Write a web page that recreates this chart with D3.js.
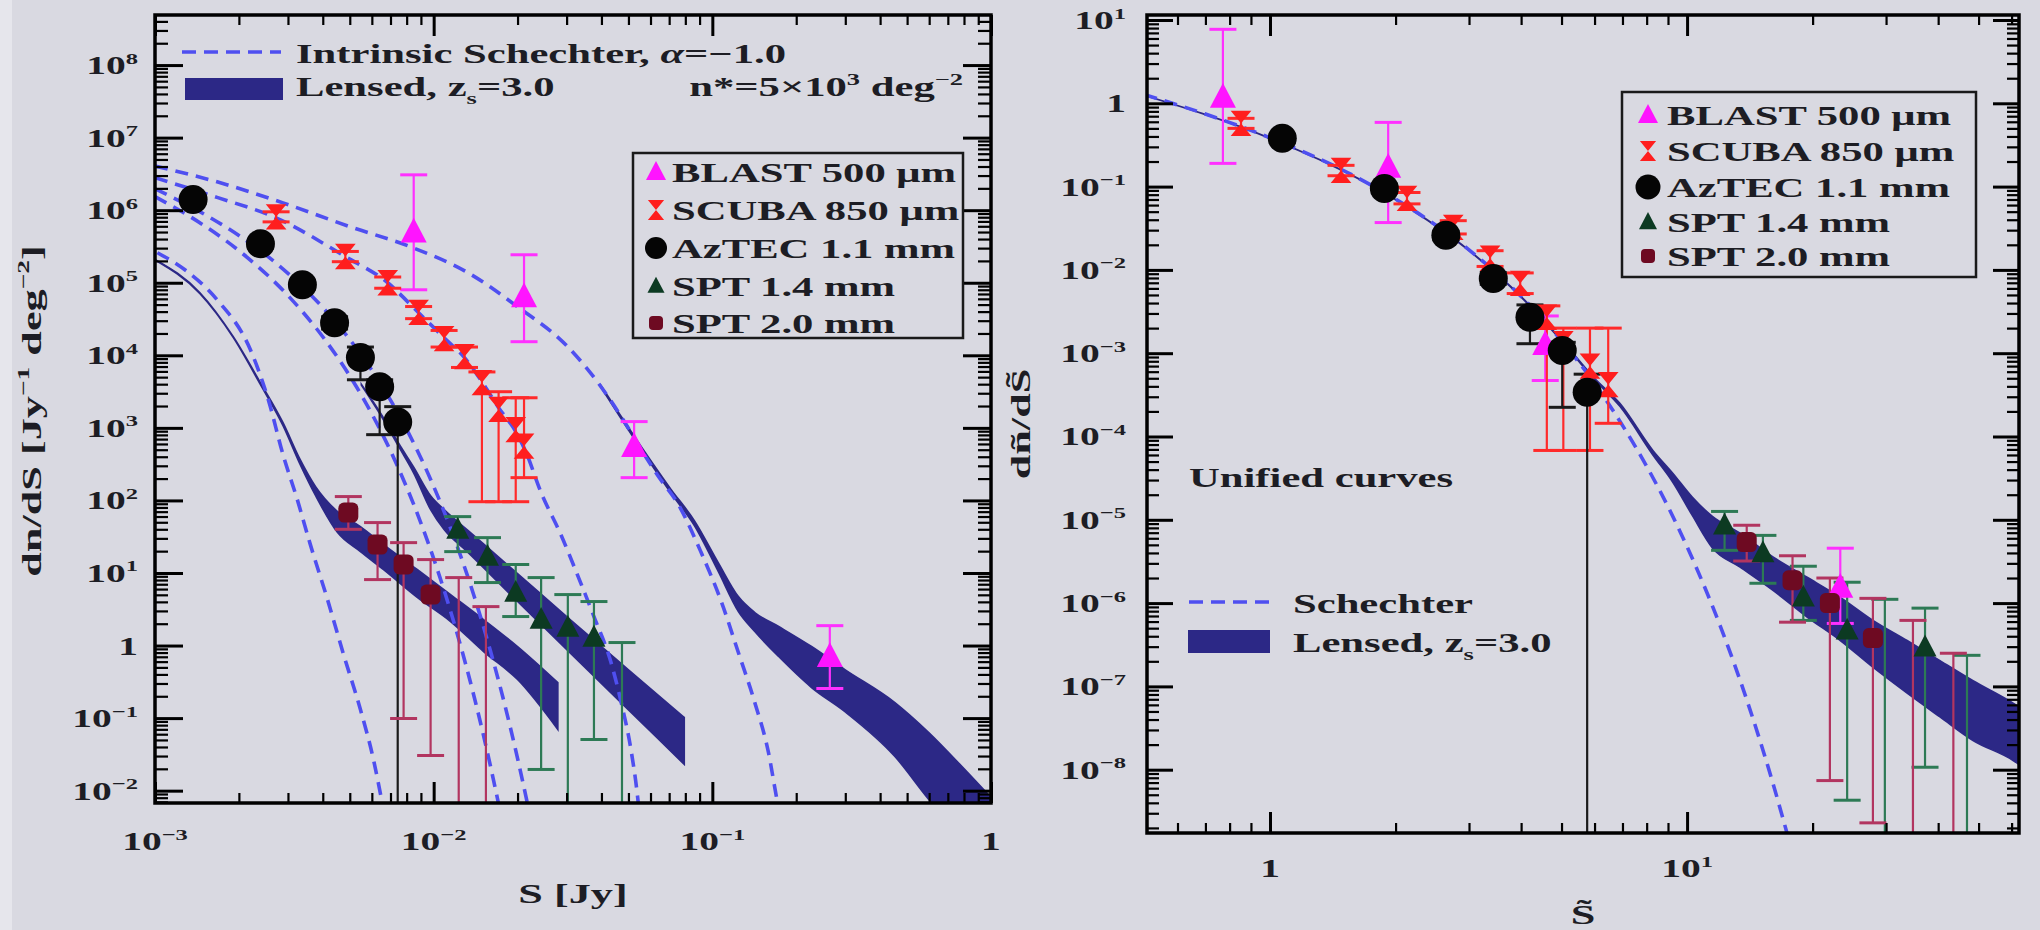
<!DOCTYPE html>
<html>
<head>
<meta charset="utf-8">
<title>Lensed source counts</title>
<script src="https://cdn.jsdelivr.net/npm/d3@7"></script>
<style>
  body { margin: 0; background: #d9d9e1; }
  svg { display: block; }
  text { font-family: "Liberation Serif", "Times New Roman", serif; font-weight: bold; fill: #1d1d24; }
</style>
</head>
<body>
<svg id="fig" width="2040" height="930"></svg>
<script>
// ---------- LEFT PANEL: S [Jy] vs dn/dS [Jy^-1 deg^-2] ----------
// intrinsic Schechter curves  [S, dn/dS]
var schBlastL = [[1.0e-3,4.05e6],[1.67e-3,2.46e6],[2.88e-3,1.26e6],[5.02e-3,5.90e5],[8.26e-3,3.13e5],[1.33e-2,1.37e5],[2.00e-2,4.67e4],[3.03e-2,1.31e4],[3.89e-2,4.19e3],[4.71e-2,1.43e3],[5.56e-2,501],[6.40e-2,215],[7.55e-2,88],[9.12e-2,19.1],[0.108,3.91],[0.124,0.801],[0.142,0.164],[0.159,0.0336],[0.170,0.00805],[0.176,0.004]];
var schScubaL = [[1.0e-3,2.8e6],[1.67e-3,1.5e6],[2.72e-3,7.85e5],[4.83e-3,2.28e5],[6.84e-3,1.0e5],[8.83e-3,3.86e4],[1.09e-2,1.75e4],[1.29e-2,9.27e3],[1.49e-2,4.33e3],[1.71e-2,1.90e3],[1.97e-2,887],[2.14e-2,470],[2.43e-2,128],[2.86e-2,33.8],[3.30e-2,8.92],[3.76e-2,2.51],[4.33e-2,0.583],[4.71e-2,0.164],[5.11e-2,0.036],[5.37e-2,0.0095],[5.5e-2,0.004]];
var schAztecL = [[1.0e-3,1.97e6],[1.5e-3,8.85e5],[2.0e-3,4.47e5],[3.0e-3,1.35e5],[4.0e-3,4.56e4],[5.0e-3,1.65e4],[6.0e-3,6.22e3],[7.0e-3,2.41e3],[8.0e-3,955],[1.0e-2,156],[1.2e-2,26.6],[1.4e-2,4.67],[1.6e-2,0.834],[1.8e-2,0.152],[2.0e-2,0.0279],[2.2e-2,5.19e-3]];
var schSpt14L = [[1.0e-3,1.54e6],[1.5e-3,6.15e5],[2.0e-3,2.77e5],[3.0e-3,6.67e4],[4.0e-3,1.80e4],[5.0e-3,5.19e3],[6.0e-3,1.56e3],[7.0e-3,482],[8.0e-3,152],[9.0e-3,48.8],[1.0e-2,15.8],[1.2e-2,1.71],[1.4e-2,0.191],[1.6e-2,0.0216],[1.75e-2,4.29e-3]];
var schSpt20L = [[1.02e-3,2.59e5],[1.28e-3,1.51e5],[1.67e-3,5.83e4],[2.20e-3,1.19e4],[2.55e-3,2.45e3],[2.88e-3,428],[3.24e-3,103],[3.61e-3,24.6],[4.16e-3,4.30],[4.75e-3,0.752],[5.46e-3,0.131],[6.08e-3,0.0269],[6.50e-3,7.57e-3]];
// lensed bands  [S, upper, lower]
var lensBlastL = [[3.99e-2,3810,3580],[5.56e-2,551,501],[7.12e-2,141,124],[8.62e-2,52.7,45.0],[0.105,13.9,10.5],[0.124,4.73,2.94],[0.142,2.85,1.56],[0.173,1.83,0.705],[0.227,0.97,0.264],[0.299,0.467,0.123],[0.452,0.164,0.0296],[0.598,0.0633,0.00757],[0.787,0.0215,2.26e-3],[1.0,8.06e-3,7.46e-4]];
var lensSpt14L = [[5.5e-3,4.0e3,3.9e3],[6.45e-3,1.6e3,1.5e3],[7.6e-3,560,500],[8.47e-3,290,240],[9.75e-3,116,74.7],[1.09e-2,74.7,39.6],[1.33e-2,38.4,19.1],[2.00e-2,9.81,4.04],[3.03e-2,2.43,0.853],[4.99e-2,0.467,0.131],[7.93e-2,0.102,0.0230]];
var lensSpt20L = [[1.0e-3,2.1e5,2.05e5],[1.45e-3,7.28e4,7.05e4],[1.91e-3,1.80e4,1.75e4],[2.39e-3,4.19e3,3.94e3],[2.88e-3,1.18e3,1.07e3],[3.32e-3,365,311],[3.77e-3,155,116],[4.52e-3,70.1,36.0],[5.46e-3,43.6,19.7],[6.61e-3,24.6,11.1],[8.75e-3,11.1,4.58],[1.15e-2,5.04,2.14],[1.51e-2,2.28,0.827],[2.00e-2,0.969,0.340],[2.79e-2,0.309,0.0697]];
// data points  [S, dn/dS, lower, upper]   (lower 0 = bar runs off the axis, null = marker hidden)
var blastL = [[8.48e-3,5.0e5,8.0e4,3.07e6],[2.11e-2,6.41e4,1.54e4,2.43e5],[5.24e-2,551,206,1.22e3],[0.264,0.705,0.256,1.88]];
var scubaL = [[2.72e-3,8.1e5,6.9e5,9.5e5],[4.82e-3,2.3e5,1.95e5,2.7e5],[6.84e-3,1.0e5,8.4e4,1.2e5],[8.83e-3,3.9e4,3.2e4,4.7e4],[1.09e-2,1.7e4,1.3e4,2.2e4],[1.29e-2,9.6e3,6.8e3,1.3e4],[1.49e-2,4.2e3,96,5.9e3],[1.71e-2,1.8e3,96,3.15e3],[1.97e-2,945,96,2.6e3],[2.11e-2,560,206,2.6e3]];
var aztecL = [[1.37e-3,1.4e6,1.25e6,1.55e6],[2.39e-3,3.44e5,3.0e5,3.9e5],[3.38e-3,9.4e4,8.2e4,1.08e5],[4.41e-3,2.8e4,2.3e4,3.4e4],[5.46e-3,9.3e3,4.6e3,1.3e4],[6.40e-3,3.7e3,806,4.6e3],[7.43e-3,1.2e3,0,1.96e3]];
var spt14L = [[1.22e-2,39.6,19.7,59.8],[1.56e-2,16.8,7.38,30.7],[1.97e-2,5.37,2.51,13.1],[2.43e-2,2.28,0.0196,8.64],[3.03e-2,1.77,0,5.04],[3.76e-2,1.29,0.0507,4.04],[4.74e-2,null,0,1.10]];
var spt20L = [[4.94e-3,67.9,40,113],[6.29e-3,24.6,8.11,49.5],[7.80e-3,13.1,0.0987,26.2],[9.75e-3,5.04,0.0305,15.3],[1.23e-2,null,0,8.64],[1.54e-2,null,0,3.44]];

// ---------- RIGHT PANEL: unified units ----------
var schUnified = [[0.5,1.27],[0.7,0.743],[1,0.385],[1.5,0.156],[2,0.0708],[3,0.0174],[4,4.80e-3],[5,1.41e-3],[6,4.33e-4],[7,1.36e-4],[8,4.39e-5],[9,1.44e-5],[10,4.75e-6],[12,5.36e-7],[14,6.22e-8],[16,7.36e-9],[17.5,1.50e-9]];
var lensUnified = [[0.5,1.25,1.24],[1,0.38,0.378],[2,0.070,0.0695],[3,0.0172,0.0170],[4,4.8e-3,4.7e-3],[5,1.45e-3,1.40e-3],[6,5.0e-4,4.8e-4],[6.9,2.5e-4,2.3e-4],[8.28,6.8e-5,6.0e-5],[9.25,3.6e-5,2.8e-5],[10.3,1.86e-5,1.12e-5],[11.5,1.1e-5,4.6e-6],[13.4,6.9e-6,2.7e-6],[16.1,3.55e-6,1.41e-6],[19.4,2.04e-6,6.8e-7],[23.3,1.17e-6,3.55e-7],[27.9,6.2e-7,1.7e-7],[33.7,3.55e-7,8.3e-8],[40.4,2.04e-7,4.3e-8],[48.5,1.17e-7,2.24e-8],[60.5,6.3e-8,1.29e-8],[65,5.0e-8,1.0e-8]];
var blastR = [[0.771,1.18,0.19,7.73],[1.92,0.17,0.037,0.59],[4.57,1.27e-3,4.7e-4,2.8e-3],[23.3,1.55e-6,5.7e-7,4.56e-6]];
var scubaR = [[0.852,0.575,0.50,0.66],[1.48,0.157,0.135,0.18],[2.13,0.0724,0.062,0.085],[2.75,0.0324,0.027,0.039],[3.37,0.0138,0.011,0.017],[3.98,6.9e-3,5.2e-3,9.2e-3],[4.61,2.7e-3,6.8e-5,3.7e-3],[5.05,1.3e-3,6.8e-5,2.0e-3],[5.85,7.0e-4,6.8e-5,2.0e-3],[6.47,4.2e-4,1.44e-4,2.0e-3]];
var aztecR = [[1.07,0.38,0.34,0.42],[1.88,0.095,0.084,0.107],[2.64,0.026,0.023,0.029],[3.43,7.9e-3,6.7e-3,9.3e-3],[4.20,2.7e-3,1.3e-3,3.8e-3],[5.02,1.08e-3,2.24e-4,1.35e-3],[5.76,3.4e-4,0,5.6e-4]];
var spt14R = [[12.3,8.6e-6,4.3e-6,1.26e-5],[15.2,4.0e-6,1.73e-6,6.5e-6],[19.0,1.17e-6,6.2e-7,2.77e-6],[24.2,4.7e-7,4.3e-9,1.78e-6],[29.8,null,0,1.11e-6],[37.2,2.95e-7,1.07e-8,8.7e-7],[46.9,null,0,2.36e-7]];
var spt20R = [[13.9,5.4e-6,3.2e-6,8.6e-6],[17.9,1.88e-6,5.9e-7,3.7e-6],[22.0,1.0e-6,7.4e-9,2.0e-6],[27.9,3.8e-7,2.3e-9,1.14e-6],[34.8,null,0,6.2e-7],[43.5,null,0,2.5e-7]];

// ---------- tick labels ----------
var leftYTicks = [1e-2,1e-1,1,1e1,1e2,1e3,1e4,1e5,1e6,1e7,1e8];
var leftYExp   = ['\u22122','\u22121','','1','2','3','4','5','6','7','8'];
var leftXTicks = [1e-3,1e-2,1e-1,1];
var leftXExp   = ['\u22123','\u22122','\u22121',''];
var rightYTicks = [1e-8,1e-7,1e-6,1e-5,1e-4,1e-3,1e-2,1e-1,1,1e1];
var rightYExp   = ['\u22128','\u22127','\u22126','\u22125','\u22124','\u22123','\u22122','\u22121','','1'];
var rightXTicks = [1,10];
var rightXExp   = ['','1'];
var legendNames = ['BLAST 500 \u03bcm','SCUBA 850 \u03bcm','AzTEC 1.1 mm','SPT 1.4 mm','SPT 2.0 mm'];

// ---------- styles ----------
var SX = 1.58;           // the lettering in the figure is wide
var DASH = '#4f4ff0', BAND = '#2c2886';
var st = {
  blast: {kind:'tri',    fill:'#ff14ff', err:'#ff30ff', size:26},
  scuba: {kind:'hour',   fill:'#ff1e1e', err:'#ff2a2a', size:23},
  aztec: {kind:'circle', fill:'#050505', err:'#1a1a1a', size:29},
  spt14: {kind:'tri',    fill:'#0c3a22', err:'#2d7a55', size:23},
  spt20: {kind:'square', fill:'#6e0a22', err:'#b23560', size:20}
};
var order = ['blast','scuba','aztec','spt14','spt20'];

var svg = d3.select('#fig');
svg.append('rect').attr('width',2040).attr('height',930).attr('fill','#d9d9e1');
svg.append('rect').attr('width',12).attr('height',930).attr('fill','#e6e6ec');
var defs = svg.append('defs');
defs.append('clipPath').attr('id','clipL').append('rect').attr('x',155).attr('y',15).attr('width',836).attr('height',788);
defs.append('clipPath').attr('id','clipR').append('rect').attr('x',1147).attr('y',15).attr('width',872).attr('height',818);

var xL = d3.scaleLog().domain([1e-3, 1]).range([155, 991]);
var yL = d3.scaleLog().domain([Math.pow(10,-2.17), Math.pow(10,8.69)]).range([803, 15]);
var xR = d3.scaleLog().domain([0.507, 62.5]).range([1147, 2019]);
var yR = d3.scaleLog().domain([Math.pow(10,-8.76), Math.pow(10,1.06)]).range([833, 15]);

// text with sup/sub pieces, stretched horizontally
function txt(g, x, y, parts, fs, anchor, rot) {
  var tr = 'translate(' + x + ',' + y + ')' + (rot ? ' rotate(' + rot + ')' : '') + ' scale(' + SX + ',1)';
  var t = g.append('g').attr('transform', tr).append('text')
    .attr('text-anchor', anchor || 'start').style('font-size', fs + 'px');
  var shift = 0;
  parts.forEach(function(p) {
    var ts = t.append('tspan').text(p[0]);
    var target = p[1] == 'sup' ? -0.42 * fs : (p[1] == 'sub' ? 0.28 * fs : 0);
    if (target - shift != 0) ts.attr('dy', target - shift);
    shift = target;
    if (p[1] == 'sup' || p[1] == 'sub') ts.style('font-size', (fs * 0.62) + 'px');
    if (p[1] == 'it') ts.style('font-style', 'italic');
  });
  return t;
}
function powParts(e) { return e === '' ? [['1','n']] : [['10','n'], [e,'sup']]; }

function minors(e0, e1, dom) {
  var out = [];
  for (var e = e0; e <= e1; e++)
    for (var k = 2; k <= 9; k++) {
      var v = k * Math.pow(10, e);
      if (v > dom[0] && v < dom[1]) out.push(v);
    }
  return out;
}

function frameAxes(g, x, y, xMaj, xMin, yMaj, yMin, lenY, lenX) {
  var x0 = x.range()[0], x1 = x.range()[1], y0 = y.range()[1], y1 = y.range()[0];
  function mk(axis, tr, vals, len, w) {
    g.append('g').attr('transform', tr)
      .call(axis.tickValues(vals).tickSize(-len).tickFormat(''))
      .call(function(s) {
        s.select('.domain').remove();
        s.selectAll('line').attr('stroke', '#000').attr('stroke-width', w);
      });
  }
  mk(d3.axisLeft(y),   'translate(' + x0 + ',0)', yMaj, lenY[0], 3);
  mk(d3.axisLeft(y),   'translate(' + x0 + ',0)', yMin, lenY[1], 2.2);
  mk(d3.axisRight(y),  'translate(' + x1 + ',0)', yMaj, lenY[0], 3);
  mk(d3.axisRight(y),  'translate(' + x1 + ',0)', yMin, lenY[1], 2.2);
  mk(d3.axisBottom(x), 'translate(0,' + y1 + ')', xMaj, lenX[0], 3);
  mk(d3.axisBottom(x), 'translate(0,' + y1 + ')', xMin, lenX[1], 2.2);
  mk(d3.axisTop(x),    'translate(0,' + y0 + ')', xMaj, lenX[0], 3);
  mk(d3.axisTop(x),    'translate(0,' + y0 + ')', xMin, lenX[1], 2.2);
  g.append('rect').attr('x', x0).attr('y', y0).attr('width', x1 - x0).attr('height', y1 - y0)
    .attr('fill', 'none').attr('stroke', '#000').attr('stroke-width', 3.5);
}

function marker(g, kind, cx, cy, s, fill) {
  if (kind == 'circle') {
    g.append('circle').attr('cx', cx).attr('cy', cy).attr('r', s / 2).attr('fill', fill);
  } else if (kind == 'square') {
    g.append('rect').attr('x', cx - s / 2).attr('y', cy - s / 2).attr('width', s).attr('height', s)
      .attr('rx', s * 0.28).attr('fill', fill);
  } else if (kind == 'tri') {
    g.append('path').attr('d', 'M' + cx + ',' + (cy - s * 0.55) + 'L' + (cx + s * 0.5) + ',' + (cy + s * 0.4) +
      'L' + (cx - s * 0.5) + ',' + (cy + s * 0.4) + 'Z').attr('fill', fill);
  } else {
    g.append('path').attr('d', 'M' + (cx - s * 0.45) + ',' + (cy - s * 0.55) + 'L' + (cx + s * 0.45) + ',' + (cy - s * 0.55) +
      'L' + (cx - s * 0.45) + ',' + (cy + s * 0.55) + 'L' + (cx + s * 0.45) + ',' + (cy + s * 0.55) + 'Z').attr('fill', fill);
  }
}

function errors(g, x, y, pts, s, capW) {
  var bottom = y.range()[0] + 4, ymin = y.domain()[0];
  pts.forEach(function(d) {
    var cx = x(d[0]), yHi = y(d[3]);
    var off = d[2] <= ymin;
    var yLo = off ? bottom : y(d[2]);
    g.append('line').attr('x1', cx).attr('x2', cx).attr('y1', yHi).attr('y2', yLo)
      .attr('stroke', s.err).attr('stroke-width', 2.2);
    g.append('line').attr('x1', cx - capW / 2).attr('x2', cx + capW / 2).attr('y1', yHi).attr('y2', yHi)
      .attr('stroke', s.err).attr('stroke-width', 3);
    if (!off) g.append('line').attr('x1', cx - capW / 2).attr('x2', cx + capW / 2).attr('y1', yLo).attr('y2', yLo)
      .attr('stroke', s.err).attr('stroke-width', 3);
  });
}

function drawPanel(x, y, clip, bands, curves, sets, capW) {
  var g = svg.append('g').attr('clip-path', 'url(#' + clip + ')');
  var area = d3.area().x(function(d) { return x(d[0]); })
    .y0(function(d) { return y(d[2]); }).y1(function(d) { return y(d[1]); }).curve(d3.curveMonotoneX);
  var line = d3.line().x(function(d) { return x(d[0]); }).y(function(d) { return y(d[1]); }).curve(d3.curveMonotoneX);
  bands.forEach(function(b) {
    g.append('path').attr('d', area(b)).attr('fill', BAND).attr('stroke', BAND).attr('stroke-width', 1.6);
  });
  curves.forEach(function(c) {
    g.append('path').attr('d', line(c)).attr('fill', 'none').attr('stroke', DASH)
      .attr('stroke-width', 3.6).attr('stroke-dasharray', '13 8');
  });
  order.forEach(function(k) { errors(g, x, y, sets[k], st[k], capW); });
  order.forEach(function(k) {
    sets[k].forEach(function(d) {
      if (d[1] !== null) marker(g, st[k].kind, x(d[0]), y(d[1]), st[k].size, st[k].fill);
    });
  });
}

// ---------- left panel ----------
drawPanel(xL, yL, 'clipL', [lensSpt20L, lensSpt14L, lensBlastL],
  [schBlastL, schScubaL, schAztecL, schSpt14L, schSpt20L],
  {blast: blastL, scuba: scubaL, aztec: aztecL, spt14: spt14L, spt20: spt20L}, 27);
frameAxes(svg.append('g'), xL, yL, leftXTicks, minors(-3, -1, xL.domain()),
  leftYTicks, minors(-3, 8, yL.domain()), [28, 13], [21, 10]);

// ---------- right panel ----------
drawPanel(xR, yR, 'clipR', [lensUnified], [schUnified],
  {blast: blastR, scuba: scubaR, aztec: aztecR, spt14: spt14R, spt20: spt20R}, 27);
frameAxes(svg.append('g'), xR, yR, rightXTicks, minors(-1, 1, xR.domain()),
  rightYTicks, minors(-9, 1, yR.domain()), [26, 12], [21, 10]);

// ---------- tick labels ----------
var lab = svg.append('g');
leftYTicks.forEach(function(v, i) { txt(lab, 138, yL(v) + 9, powParts(leftYExp[i]), 25, 'end'); });
leftXTicks.forEach(function(v, i) { txt(lab, xL(v), 850, powParts(leftXExp[i]), 25, 'middle'); });
rightYTicks.forEach(function(v, i) { txt(lab, 1126, yR(v) + 9, powParts(rightYExp[i]), 25, 'end'); });
rightXTicks.forEach(function(v, i) { txt(lab, xR(v), 877, powParts(rightXExp[i]), 25, 'middle'); });

// axis titles
txt(lab, 573, 903, [['S [Jy]','n']], 28, 'middle');
txt(lab, 41, 411, [['dn/dS [Jy','n'],['\u22121','sup'],[' deg','n'],['\u22122','sup'],[']','n']], 28, 'middle', -90);
txt(lab, 1583, 924, [['S\u0303','n']], 28, 'middle');
txt(lab, 1030, 424, [['d\u00f1/dS\u0303','n']], 28, 'middle', -90);

// ---------- legends ----------
var lg = svg.append('g');
// left: curve legend
lg.append('line').attr('x1', 182).attr('x2', 281).attr('y1', 52).attr('y2', 52)
  .attr('stroke', DASH).attr('stroke-width', 3.4).attr('stroke-dasharray', '14 8');
lg.append('rect').attr('x', 185).attr('y', 78).attr('width', 98).attr('height', 22).attr('fill', BAND);
txt(lg, 296, 63, [['Intrinsic Schechter, ','n'],['\u03b1','it'],['=\u22121.0','n']], 27);
txt(lg, 296, 96, [['Lensed, z','n'],['s','sub'],['=3.0','n']], 27);
txt(lg, 963, 96, [['n*=5\u00d710','n'],['3','sup'],[' deg','n'],['\u22122','sup']], 27, 'end');

function symbolLegend(x0, y0, w, h, mx, tx, rows, sizes) {
  lg.append('rect').attr('x', x0).attr('y', y0).attr('width', w).attr('height', h)
    .attr('fill', 'none').attr('stroke', '#1a1a1a').attr('stroke-width', 2.5);
  order.forEach(function(k, i) {
    marker(lg, st[k].kind, mx, rows[i], sizes[i], st[k].fill);
    txt(lg, tx, rows[i] + 10, [[legendNames[i], 'n']], 27);
  });
}
symbolLegend(633, 153, 330, 185, 656, 672, [172, 210, 248, 286, 323], [20, 18, 22, 17, 14]);
symbolLegend(1622, 92, 354, 185, 1648, 1667, [115, 151, 187, 222, 256], [20, 18, 25, 18, 14]);

// right: curve legend
txt(lg, 1189, 487, [['Unified curves','n']], 27);
lg.append('line').attr('x1', 1189).attr('x2', 1270).attr('y1', 602).attr('y2', 602)
  .attr('stroke', DASH).attr('stroke-width', 3.4).attr('stroke-dasharray', '14 8');
lg.append('rect').attr('x', 1188).attr('y', 630).attr('width', 82).attr('height', 23).attr('fill', BAND);
txt(lg, 1293, 613, [['Schechter','n']], 27);
txt(lg, 1293, 652, [['Lensed, z','n'],['s','sub'],['=3.0','n']], 27);
</script>
</body>
</html>
